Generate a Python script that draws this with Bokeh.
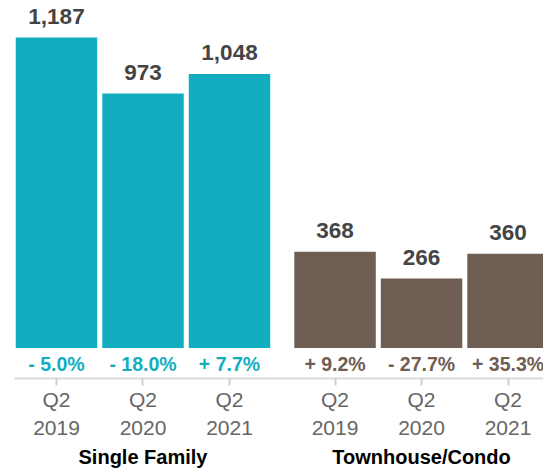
from bokeh.plotting import figure
from bokeh.models import ColumnDataSource, Range1d, FixedTicker, LinearAxis
from bokeh.core.properties import value
from bokeh.embed import file_html
from bokeh.resources import INLINE

groups = ["Single Family", "Townhouse/Condo"]
periods = ["Q2\n2019", "Q2\n2020", "Q2\n2021"]
single_family = [1187, 973, 1048]
townhouse_condo = [368, 266, 360]
sf_change = ["- 5.0%", "- 18.0%", "+ 7.7%"]
tc_change = ["+ 9.2%", "- 27.7%", "+ 35.3%"]
colors = ["#12AEBF", "#6F5E54"]

GROUP_GAP = 0.22
FONT = "Liberation Sans"

p = figure(frame_width=529, frame_height=370, output_backend="svg", toolbar_location=None,
           x_range=Range1d(-0.4855, 5.63), y_range=Range1d(-116.6, 1298.3),
           min_border_left=14, min_border_right=0, min_border_top=8, min_border_bottom=0)
p.outline_line_color = None
p.grid.visible = False
p.yaxis.visible = False
p.background_fill_color = "white"
p.border_fill_color = "white"

tick_pos = []
tick_labels = {}
group_pos = []
for g, (vals, chg, col) in enumerate(zip([single_family, townhouse_condo], [sf_change, tc_change], colors)):
    xs = [g * (len(periods) + GROUP_GAP) + i for i in range(len(periods))]
    src = ColumnDataSource(dict(x=xs, top=vals, lab=[f"{v:,}" for v in vals], chg=chg))
    p.vbar(x="x", top="top", bottom=0, width=0.942, source=src, fill_color=col, line_color=None)
    p.text(x="x", y="top", text="lab", source=src, text_align="center", text_baseline="alphabetic",
           y_offset=-21, text_font=value(FONT), text_font_style="bold", text_font_size="22.5px",
           text_color="#444444")
    p.text(x="x", y=0, text="chg", source=src, text_align="center", text_baseline="middle",
           y_offset=15.5, text_font=value(FONT), text_font_style="bold", text_font_size="19.5px",
           text_color=col)
    for x, lab in zip(xs, periods):
        tick_pos.append(x)
        tick_labels[x] = lab
    group_pos.append(g * (len(periods) + GROUP_GAP) + (len(periods) - 1) / 2)

ax = p.xaxis[0]
ax.ticker = FixedTicker(ticks=tick_pos)
ax.major_label_overrides = tick_labels
ax.axis_line_color = "#DADADA"
ax.axis_line_width = 2
ax.major_tick_line_color = "#D0D0D0"
ax.major_tick_line_width = 2
ax.major_tick_in = 0
ax.major_tick_out = 7
ax.minor_tick_line_color = None
ax.major_label_standoff = 2
ax.major_label_text_font = FONT
ax.major_label_text_font_size = "21px"
ax.major_label_text_color = "#666666"
ax.major_label_text_line_height = 1.25

ax2 = LinearAxis(ticker=FixedTicker(ticks=group_pos),
                 major_label_overrides={x: g for x, g in zip(group_pos, groups)})
ax2.axis_line_color = None
ax2.major_tick_line_color = None
ax2.minor_tick_line_color = None
ax2.major_tick_out = 0
ax2.major_tick_in = 0
ax2.major_label_standoff = 3
ax2.major_label_text_font = FONT
ax2.major_label_text_font_style = "bold"
ax2.major_label_text_font_size = "20px"
ax2.major_label_text_color = "#000000"
p.add_layout(ax2, "below")

open("out.html", "w").write(file_html(p, INLINE))
